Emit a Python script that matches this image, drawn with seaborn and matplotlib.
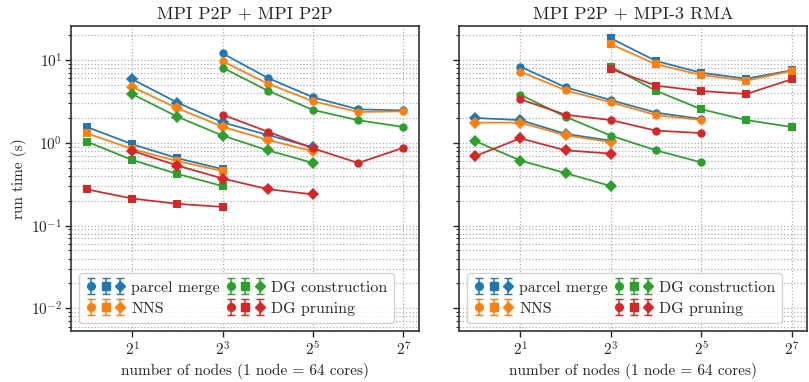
import matplotlib
matplotlib.use("Agg")
import matplotlib.pyplot as plt
from matplotlib.legend_handler import HandlerTuple
from matplotlib.ticker import NullLocator
import seaborn as sns
import pandas as pd
import numpy as np

# phases, in legend order
phases = ["parcel merge", "NNS", "DG construction", "DG pruning"]
colors = ["#1f77b4", "#ff7f0e", "#2ca02c", "#d62728"]

# --- MPI P2P + MPI P2P ---
p2p_small_nodes = [1, 2, 4, 8]
p2p_small = {
    "parcel merge": [1.55, 0.96, 0.65, 0.48],
    "NNS": [1.30, 0.84, 0.60, 0.455],
    "DG construction": [1.03, 0.62, 0.42, 0.30],
    "DG pruning": [0.273, 0.212, 0.183, 0.168],
}
p2p_mid_nodes = [2, 4, 8, 16, 32]
p2p_mid = {
    "parcel merge": [5.84, 3.05, 1.76, 1.24, 0.88],
    "NNS": [4.72, 2.61, 1.56, 1.08, 0.79],
    "DG construction": [3.87, 2.06, 1.22, 0.81, 0.57],
    "DG pruning": [0.80, 0.53, 0.37, 0.275, 0.238],
}
p2p_large_nodes = [8, 16, 32, 64, 128]
p2p_large = {
    "parcel merge": [12.0, 6.06, 3.54, 2.53, 2.46],
    "NNS": [9.64, 5.17, 3.17, 2.35, 2.40],
    "DG construction": [8.07, 4.25, 2.49, 1.87, 1.55],
    "DG pruning": [2.18, 1.36, 0.855, 0.57, 0.87],
}

# --- MPI P2P + MPI-3 RMA ---
rma_small_nodes = [1, 2, 4, 8]
rma_small = {
    "parcel merge": [1.99, 1.88, 1.28, 1.06],
    "NNS": [1.75, 1.75, 1.23, 1.02],
    "DG construction": [1.05, 0.61, 0.43, 0.30],
    "DG pruning": [0.69, 1.13, 0.81, 0.74],
}
rma_mid_nodes = [2, 4, 8, 16, 32]
rma_mid = {
    "parcel merge": [8.3, 4.68, 3.28, 2.31, 1.94],
    "NNS": [7.22, 4.30, 3.08, 2.16, 1.88],
    "DG construction": [3.80, 2.06, 1.22, 0.81, 0.58],
    "DG pruning": [3.35, 2.18, 1.88, 1.40, 1.31],
}
rma_large_nodes = [8, 16, 32, 64, 128]
rma_large = {
    "parcel merge": [18.3, 9.72, 7.0, 5.94, 7.5],
    "NNS": [15.5, 8.87, 6.59, 5.62, 7.36],
    "DG construction": [8.3, 4.25, 2.54, 1.88, 1.55],
    "DG pruning": [7.78, 4.89, 4.22, 3.88, 5.84],
}

titles = ["MPI P2P + MPI P2P", "MPI P2P + MPI-3 RMA"]


def to_frame(groups):
    rows = []
    for size, nodes, vals in groups:
        for ph in phases:
            for n, v in zip(nodes, vals[ph]):
                rows.append({"phase": ph, "size": size, "nodes": n, "time": v})
    return pd.DataFrame(rows)


df_p2p = to_frame([("small", p2p_small_nodes, p2p_small),
                   ("mid", p2p_mid_nodes, p2p_mid),
                   ("large", p2p_large_nodes, p2p_large)])
df_rma = to_frame([("small", rma_small_nodes, rma_small),
                   ("mid", rma_mid_nodes, rma_mid),
                   ("large", rma_large_nodes, rma_large)])

p2p_markers = {"small": "s", "mid": "D", "large": "o"}
rma_markers = {"small": "D", "mid": "o", "large": "s"}

sns.set_theme(style="ticks")
plt.rcParams["font.family"] = ["cmr10", "DejaVu Serif"]
plt.rcParams["mathtext.fontset"] = "cm"
plt.rcParams["axes.formatter.use_mathtext"] = True
plt.rcParams["axes.unicode_minus"] = False

fig, axes = plt.subplots(1, 2, figsize=(8.09, 3.82), dpi=100, sharey=True)
fig.subplots_adjust(left=0.088, right=0.998, top=0.933, bottom=0.133, wspace=0.115)

for ax, df, mk, title in zip(axes, [df_p2p, df_rma], [p2p_markers, rma_markers], titles):
    sns.lineplot(data=df, x="nodes", y="time", hue="phase", style="size",
                 hue_order=phases, palette=colors, markers=mk, dashes=False,
                 markersize=6, markeredgewidth=0, linewidth=1.25,
                 legend=False, ax=ax)
    ax.set_xscale("log", base=2)
    ax.set_yscale("log")
    ax.set_xticks([2, 8, 32, 128])
    ax.xaxis.set_minor_locator(NullLocator())
    ax.set_ylim(0.0053, 26)
    ax.set_title(title, fontsize=13, pad=5)
    ax.set_xlabel("number of nodes (1 node = 64 cores)", fontsize=11, labelpad=3)
    ax.set_ylabel("run time (s)", fontsize=11, labelpad=3)
    ax.grid(True, which="major", axis="x", linestyle=":", color="#b0b0b0", linewidth=0.9)
    ax.grid(True, which="both", axis="y", linestyle=":", color="#b0b0b0", linewidth=0.9)
    ax.tick_params(which="major", labelsize=11, length=4, width=1, pad=2.5)
    ax.tick_params(which="minor", length=2.5, width=0.8)
    for sp in ax.spines.values():
        sp.set_color("#333333")
        sp.set_linewidth(1.2)

    handles = []
    for c in colors:
        trio = []
        for m in ["o", "s", "D"]:
            eb = ax.errorbar([np.nan], [np.nan], yerr=[np.nan], fmt=m, color=c,
                             markersize=5.5, capsize=3, elinewidth=1.1)
            trio.append(eb)
        handles.append(tuple(trio))
    ax.legend(handles, phases, handler_map={tuple: HandlerTuple(ndivide=None, pad=0.3)},
              loc="lower left", ncol=2, fontsize=11.5, handlelength=2.4,
              handletextpad=0.4, columnspacing=0.4, labelspacing=0.45,
              borderpad=0.45, framealpha=0.85)

axes[1].set_ylabel("")
fig.savefig("out.png", dpi=100)
